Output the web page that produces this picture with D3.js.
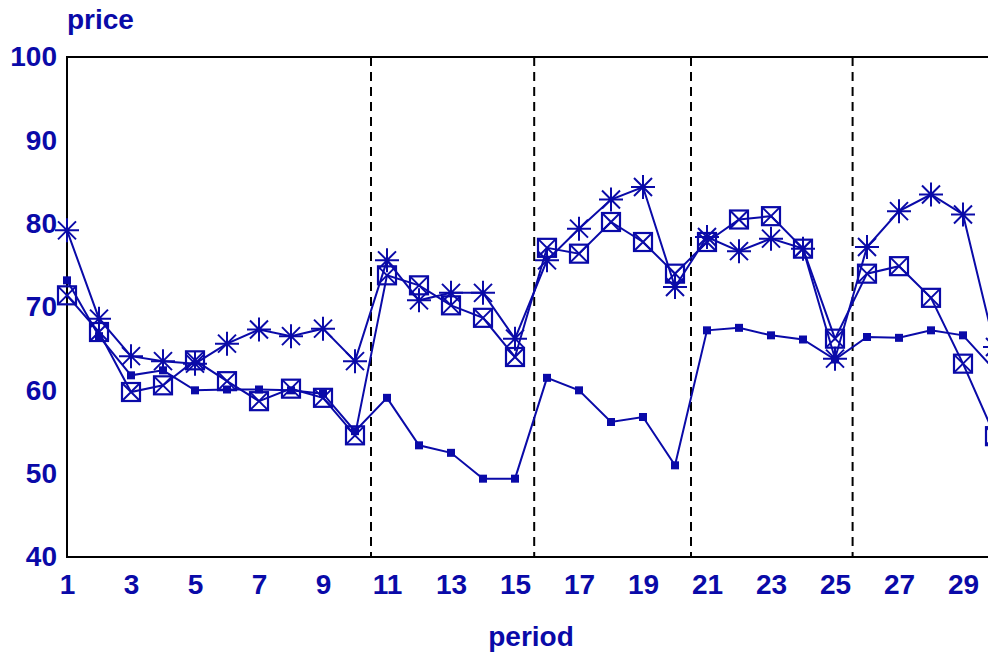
<!DOCTYPE html>
<html>
<head>
<meta charset="utf-8">
<script src="https://cdn.jsdelivr.net/npm/d3@7"></script>
<style>
  html, body { margin: 0; padding: 0; background: #fff; overflow: hidden; }
  svg { display: block; }
  text { font-family: "Liberation Sans", Arial, Helvetica, sans-serif; font-weight: bold; fill: #0a0aa8; }
</style>
</head>
<body>
<svg id="chart" width="988" height="663"></svg>
<script>
const periods = d3.range(1, 31);
const seriesSquare = [73.2, 66.5, 61.8, 62.4, 60.0, 60.1, 60.1, 60.0, 59.6, 55.1,
                      59.1, 53.4, 52.5, 49.4, 49.4, 61.5, 60.0, 56.2, 56.8, 51.0,
                      67.2, 67.5, 66.6, 66.1, 63.7, 66.4, 66.3, 67.2, 66.6, 62.4];
const seriesBoxX   = [71.4, 67.0, 59.8, 60.6, 63.6, 61.1, 58.7, 60.2, 59.1, 54.6,
                      73.8, 72.6, 70.2, 68.7, 64.0, 77.1, 76.4, 80.2, 77.8, 74.0,
                      77.8, 80.5, 80.9, 77.0, 66.2, 74.0, 74.9, 71.1, 63.2, 54.5];
const seriesStar   = [79.2, 68.6, 64.1, 63.5, 63.2, 65.6, 67.3, 66.5, 67.4, 63.5,
                      75.6, 70.8, 71.7, 71.7, 66.2, 75.6, 79.4, 82.9, 84.4, 72.4,
                      78.4, 76.7, 78.2, 77.0, 63.8, 77.2, 81.5, 83.5, 81.1, 65.2];
const dividers = [10.5, 15.6, 20.5, 25.55];
const xTicks = [1, 3, 5, 7, 9, 11, 13, 15, 17, 19, 21, 23, 25, 27, 29];
const yTicks = [40, 50, 60, 70, 80, 90, 100];

(function () {
const svg = d3.select("#chart");
const color = "#0a0aa8";
const mLeft = 67, mTop = 57, mBottom = 557;
const x = d3.scaleLinear().domain([1, 30]).range([mLeft, 995]);
const y = d3.scaleLinear().domain([40, 100]).range([mBottom, mTop]);

// frame
svg.append("rect")
  .attr("x", mLeft).attr("y", mTop)
  .attr("width", 1040 - mLeft).attr("height", mBottom - mTop)
  .attr("fill", "none").attr("stroke", "#000").attr("stroke-width", 2);

// dividers
svg.selectAll("line.div").data(dividers).enter().append("line")
  .attr("class", "div")
  .attr("x1", d => x(d)).attr("x2", d => x(d))
  .attr("y1", mTop).attr("y2", mBottom)
  .attr("stroke", "#000").attr("stroke-width", 2)
  .attr("stroke-dasharray", "9,6");

// axes (labels only)
const yAxis = svg.append("g").attr("transform", `translate(${mLeft},0)`)
  .call(d3.axisLeft(y).tickValues(yTicks).tickSize(0).tickPadding(10));
const xAxis = svg.append("g").attr("transform", `translate(0,${mBottom})`)
  .call(d3.axisBottom(x).tickValues(xTicks).tickSize(0).tickPadding(17));
[yAxis, xAxis].forEach(g => {
  g.select(".domain").remove();
  g.selectAll("text").attr("font-size", 28).attr("fill", color)
    .attr("font-family", "Liberation Sans, Arial, sans-serif").attr("font-weight", "bold");
});

svg.append("text").attr("x", mLeft).attr("y", 29).attr("font-size", 28).text("price");
svg.append("text").attr("x", 531).attr("y", 646).attr("font-size", 28)
  .attr("text-anchor", "middle").text("period");

const line = d3.line().x((d, i) => x(periods[i])).y(d => y(d));
const allSeries = [seriesSquare, seriesBoxX, seriesStar];
allSeries.forEach(s => {
  svg.append("path").datum(s).attr("d", line)
    .attr("fill", "none").attr("stroke", color).attr("stroke-width", 2);
});

// markers: filled squares
svg.selectAll("rect.sq").data(seriesSquare).enter().append("rect")
  .attr("class", "sq")
  .attr("x", (d, i) => x(periods[i]) - 4).attr("y", d => y(d) - 4)
  .attr("width", 8).attr("height", 8).attr("fill", color);

// boxes with X
const bx = svg.selectAll("g.bx").data(seriesBoxX).enter().append("g")
  .attr("class", "bx")
  .attr("transform", (d, i) => `translate(${x(periods[i])},${y(d)})`);
bx.append("rect").attr("x", -9).attr("y", -9).attr("width", 18).attr("height", 18)
  .attr("fill", "none").attr("stroke", color).attr("stroke-width", 2.2);
bx.append("path").attr("d", "M-9,-9L9,9M9,-9L-9,9")
  .attr("stroke", color).attr("stroke-width", 2);

// asterisks
svg.selectAll("path.st").data(seriesStar).enter().append("path")
  .attr("class", "st")
  .attr("transform", (d, i) => `translate(${x(periods[i])},${y(d)})`)
  .attr("d", "M0,-12L0,12M-12,0L12,0M-9,-9L9,9M9,-9L-9,9")
  .attr("stroke", color).attr("stroke-width", 2);
})();
</script>
</body>
</html>
